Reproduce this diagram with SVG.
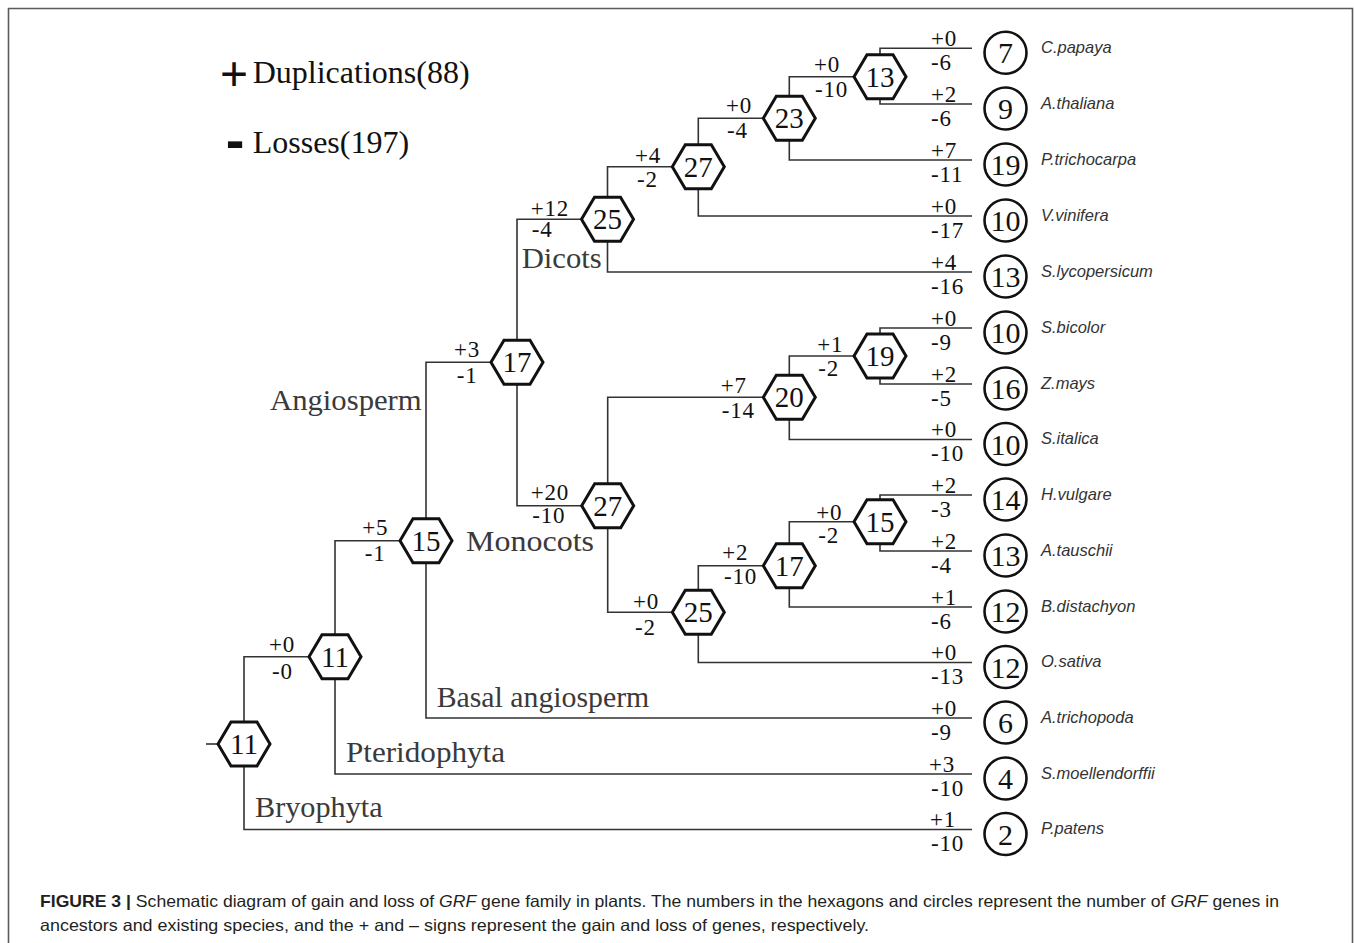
<svg xmlns="http://www.w3.org/2000/svg" width="1354" height="943" viewBox="0 0 1354 943">
<style>
.bg{fill:#fff}
.frame{fill:none;stroke:#5a5a5a;stroke-width:1.6}
.ln{fill:none;stroke:#333;stroke-width:1.6}
.hex{fill:#fff;stroke:#111;stroke-width:3}
.leaf{fill:#fff;stroke:#111;stroke-width:2.6}
.num{font-family:"Liberation Serif",serif;font-size:29px;fill:#111;text-anchor:middle}
.cnum{font-family:"Liberation Serif",serif;font-size:30px;fill:#111;text-anchor:middle}
.pm{font-family:"Liberation Serif",serif;font-size:23px;letter-spacing:0.8px;fill:#111}
.sp{font-family:"Liberation Sans",Arial,sans-serif;font-size:16.5px;font-style:italic;fill:#333}
.clade{font-family:"Liberation Serif",serif;font-size:30px;fill:#3a3a3a}
.leg{font-family:"Liberation Serif",serif;font-size:32px;fill:#111}
.legsym{font-family:"Liberation Sans",Arial,sans-serif;fill:#111;text-anchor:middle}
.cap{font-family:"Liberation Sans",Arial,sans-serif;font-size:16.5px;fill:#231f20}
</style>
<defs>
<polygon id="hexshape" points="-26,0 -13,-22 13,-22 26,0 13,22 -13,22"/>
</defs>
<rect class="bg" x="0" y="0" width="1354" height="943"/>
<path class="frame" d="M8.5 960 V8.5 H1352.5 V960"/>

<g id="legend">
<text class="legsym" x="234" y="90" font-size="48">+</text>
<text class="leg" x="252.7" y="83.3">Duplications(88)</text>
<text class="legsym" x="235" y="159" font-size="56" font-weight="bold">-</text>
<text class="leg" x="252.7" y="153.3">Losses(197)</text>
</g>

<g id="connectors">
<path class="ln" d="M206 744 H218"/>
<path class="ln" d="M309 656.7 H244 V829.5 H972"/>
<path class="ln" d="M400 540.7 H335 V774 H972"/>
<path class="ln" d="M491 362.3 H426 V718 H972"/>
<path class="ln" d="M581.5 219.3 H517 V505.7 H581.7"/>
<path class="ln" d="M672.3 166.7 H607.5 V272 H972"/>
<path class="ln" d="M763.3 118.3 H698.3 V216 H972"/>
<path class="ln" d="M854 76.7 H789.3 V160 H972"/>
<path class="ln" d="M972 48.3 H880 V104 H972"/>
<path class="ln" d="M763.3 397.3 H607.7 V612.3 H672.3"/>
<path class="ln" d="M854 356 H789.3 V439.5 H972"/>
<path class="ln" d="M972 328 H880 V384 H972"/>
<path class="ln" d="M763.3 565.7 H698.3 V662.5 H972"/>
<path class="ln" d="M854 521.7 H789.3 V607 H972"/>
<path class="ln" d="M972 495 H880 V551 H972"/>
</g>

<g id="branch-labels">
<text class="pm" x="269" y="651.7">+0</text><text class="pm" x="272" y="679.3">-0</text>
<text class="pm" x="362.3" y="535">+5</text><text class="pm" x="364.7" y="560.7">-1</text>
<text class="pm" x="454" y="356.7">+3</text><text class="pm" x="456.7" y="383.3">-1</text>
<text class="pm" x="530.7" y="216">+12</text><text class="pm" x="531.7" y="237">-4</text>
<text class="pm" x="635" y="162.7">+4</text><text class="pm" x="637" y="186.7">-2</text>
<text class="pm" x="726" y="113.3">+0</text><text class="pm" x="727" y="138.3">-4</text>
<text class="pm" x="814" y="71.7">+0</text><text class="pm" x="815" y="96.7">-10</text>
<text class="pm" x="530.7" y="500">+20</text><text class="pm" x="532.3" y="523">-10</text>
<text class="pm" x="720.7" y="392.7">+7</text><text class="pm" x="721.7" y="418.3">-14</text>
<text class="pm" x="817.3" y="351.7">+1</text><text class="pm" x="818.3" y="376">-2</text>
<text class="pm" x="633" y="609.3">+0</text><text class="pm" x="635" y="635">-2</text>
<text class="pm" x="722.3" y="560">+2</text><text class="pm" x="724" y="584">-10</text>
<text class="pm" x="816.3" y="520">+0</text><text class="pm" x="818.3" y="543.3">-2</text>
</g>

<g id="leaf-branch-labels">
<text class="pm" x="931" y="45.8">+0</text><text class="pm" x="931" y="69.8">-6</text>
<text class="pm" x="931" y="101.5">+2</text><text class="pm" x="931" y="125.5">-6</text>
<text class="pm" x="931" y="157.5">+7</text><text class="pm" x="931" y="181.5">-11</text>
<text class="pm" x="931" y="213.5">+0</text><text class="pm" x="931" y="237.5">-17</text>
<text class="pm" x="931" y="269.5">+4</text><text class="pm" x="931" y="293.5">-16</text>
<text class="pm" x="931" y="325.5">+0</text><text class="pm" x="931" y="349.5">-9</text>
<text class="pm" x="931" y="381.5">+2</text><text class="pm" x="931" y="405.5">-5</text>
<text class="pm" x="931" y="437">+0</text><text class="pm" x="931" y="461">-10</text>
<text class="pm" x="931" y="492.5">+2</text><text class="pm" x="931" y="516.5">-3</text>
<text class="pm" x="931" y="548.5">+2</text><text class="pm" x="931" y="572.5">-4</text>
<text class="pm" x="931" y="604.5">+1</text><text class="pm" x="931" y="628.5">-6</text>
<text class="pm" x="931" y="660">+0</text><text class="pm" x="931" y="684">-13</text>
<text class="pm" x="931" y="715.5">+0</text><text class="pm" x="931" y="739.5">-9</text>
<text class="pm" x="929" y="771.5">+3</text><text class="pm" x="931" y="795.5">-10</text>
<text class="pm" x="930" y="827">+1</text><text class="pm" x="931" y="851">-10</text>
</g>

<g id="clade-labels">
<text class="clade" x="521.7" y="268" textLength="80" lengthAdjust="spacingAndGlyphs">Dicots</text>
<text class="clade" x="270" y="410" textLength="151.7" lengthAdjust="spacingAndGlyphs">Angiosperm</text>
<text class="clade" x="466" y="550.5" textLength="128" lengthAdjust="spacingAndGlyphs">Monocots</text>
<text class="clade" x="436.7" y="706.7" textLength="212.6" lengthAdjust="spacingAndGlyphs">Basal angiosperm</text>
<text class="clade" x="346" y="762.3" textLength="159" lengthAdjust="spacingAndGlyphs">Pteridophyta</text>
<text class="clade" x="255" y="816.7" textLength="127.7" lengthAdjust="spacingAndGlyphs">Bryophyta</text>
</g>

<g id="node-root"><use href="#hexshape" class="hex" x="244" y="744"/><text class="num" x="244" y="754">11</text></g>
<g id="node-tracheophyta"><use href="#hexshape" class="hex" x="335" y="656.7"/><text class="num" x="335" y="666.7">11</text></g>
<g id="node-angiosperm"><use href="#hexshape" class="hex" x="426" y="540.7"/><text class="num" x="426" y="550.7">15</text></g>
<g id="node-mesangiosperm"><use href="#hexshape" class="hex" x="517" y="362.3"/><text class="num" x="517" y="372.3">17</text></g>
<g id="node-dicots"><use href="#hexshape" class="hex" x="607.5" y="219.3"/><text class="num" x="607.5" y="229.3">25</text></g>
<g id="node-dicot-core"><use href="#hexshape" class="hex" x="698.3" y="166.7"/><text class="num" x="698.3" y="176.7">27</text></g>
<g id="node-rosids"><use href="#hexshape" class="hex" x="789.3" y="118.3"/><text class="num" x="789.3" y="128.3">23</text></g>
<g id="node-brassicales"><use href="#hexshape" class="hex" x="880" y="76.7"/><text class="num" x="880" y="86.7">13</text></g>
<g id="node-monocots"><use href="#hexshape" class="hex" x="607.7" y="505.7"/><text class="num" x="607.7" y="515.7">27</text></g>
<g id="node-panicoideae"><use href="#hexshape" class="hex" x="789.3" y="397.3"/><text class="num" x="789.3" y="407.3">20</text></g>
<g id="node-andropogoneae"><use href="#hexshape" class="hex" x="880" y="356"/><text class="num" x="880" y="366">19</text></g>
<g id="node-bep"><use href="#hexshape" class="hex" x="698.3" y="612.3"/><text class="num" x="698.3" y="622.3">25</text></g>
<g id="node-pooideae"><use href="#hexshape" class="hex" x="789.3" y="565.7"/><text class="num" x="789.3" y="575.7">17</text></g>
<g id="node-triticeae"><use href="#hexshape" class="hex" x="880" y="521.7"/><text class="num" x="880" y="531.7">15</text></g>

<g id="leaf-cpapaya"><circle class="leaf" cx="1005.5" cy="52.8" r="21"/><text class="cnum" x="1005.5" y="63.3">7</text><text class="sp" x="1041" y="53">C.papaya</text></g>
<g id="leaf-athaliana"><circle class="leaf" cx="1005.5" cy="108.5" r="21"/><text class="cnum" x="1005.5" y="119">9</text><text class="sp" x="1041" y="108.7">A.thaliana</text></g>
<g id="leaf-ptrichocarpa"><circle class="leaf" cx="1005.5" cy="164.5" r="21"/><text class="cnum" x="1005.5" y="175">19</text><text class="sp" x="1041" y="164.7">P.trichocarpa</text></g>
<g id="leaf-vvinifera"><circle class="leaf" cx="1005.5" cy="220.5" r="21"/><text class="cnum" x="1005.5" y="231">10</text><text class="sp" x="1041" y="220.7">V.vinifera</text></g>
<g id="leaf-slycopersicum"><circle class="leaf" cx="1005.5" cy="276.5" r="21"/><text class="cnum" x="1005.5" y="287">13</text><text class="sp" x="1041" y="276.7">S.lycopersicum</text></g>
<g id="leaf-sbicolor"><circle class="leaf" cx="1005.5" cy="332.5" r="21"/><text class="cnum" x="1005.5" y="343">10</text><text class="sp" x="1041" y="332.7">S.bicolor</text></g>
<g id="leaf-zmays"><circle class="leaf" cx="1005.5" cy="388.5" r="21"/><text class="cnum" x="1005.5" y="399">16</text><text class="sp" x="1041" y="388.7">Z.mays</text></g>
<g id="leaf-sitalica"><circle class="leaf" cx="1005.5" cy="444" r="21"/><text class="cnum" x="1005.5" y="454.5">10</text><text class="sp" x="1041" y="444.2">S.italica</text></g>
<g id="leaf-hvulgare"><circle class="leaf" cx="1005.5" cy="499.5" r="21"/><text class="cnum" x="1005.5" y="510">14</text><text class="sp" x="1041" y="499.7">H.vulgare</text></g>
<g id="leaf-atauschii"><circle class="leaf" cx="1005.5" cy="555.5" r="21"/><text class="cnum" x="1005.5" y="566">13</text><text class="sp" x="1041" y="555.7">A.tauschii</text></g>
<g id="leaf-bdistachyon"><circle class="leaf" cx="1005.5" cy="611.5" r="21"/><text class="cnum" x="1005.5" y="622">12</text><text class="sp" x="1041" y="611.7">B.distachyon</text></g>
<g id="leaf-osativa"><circle class="leaf" cx="1005.5" cy="667" r="21"/><text class="cnum" x="1005.5" y="677.5">12</text><text class="sp" x="1041" y="667.2">O.sativa</text></g>
<g id="leaf-atrichopoda"><circle class="leaf" cx="1005.5" cy="722.5" r="21"/><text class="cnum" x="1005.5" y="733">6</text><text class="sp" x="1041" y="722.7">A.trichopoda</text></g>
<g id="leaf-smoellendorffii"><circle class="leaf" cx="1005.5" cy="778.5" r="21"/><text class="cnum" x="1005.5" y="789">4</text><text class="sp" x="1041" y="778.7">S.moellendorffii</text></g>
<g id="leaf-ppatens"><circle class="leaf" cx="1005.5" cy="834" r="21"/><text class="cnum" x="1005.5" y="844.5">2</text><text class="sp" x="1041" y="834.2">P.patens</text></g>

<g id="caption">
<text class="cap" x="40" y="907" textLength="1239" lengthAdjust="spacingAndGlyphs"><tspan font-weight="bold">FIGURE 3 |</tspan> Schematic diagram of gain and loss of <tspan font-style="italic">GRF</tspan> gene family in plants. The numbers in the hexagons and circles represent the number of <tspan font-style="italic">GRF</tspan> genes in</text>
<text class="cap" x="40" y="931" textLength="829" lengthAdjust="spacingAndGlyphs">ancestors and existing species, and the + and – signs represent the gain and loss of genes, respectively.</text>
</g>
</svg>
